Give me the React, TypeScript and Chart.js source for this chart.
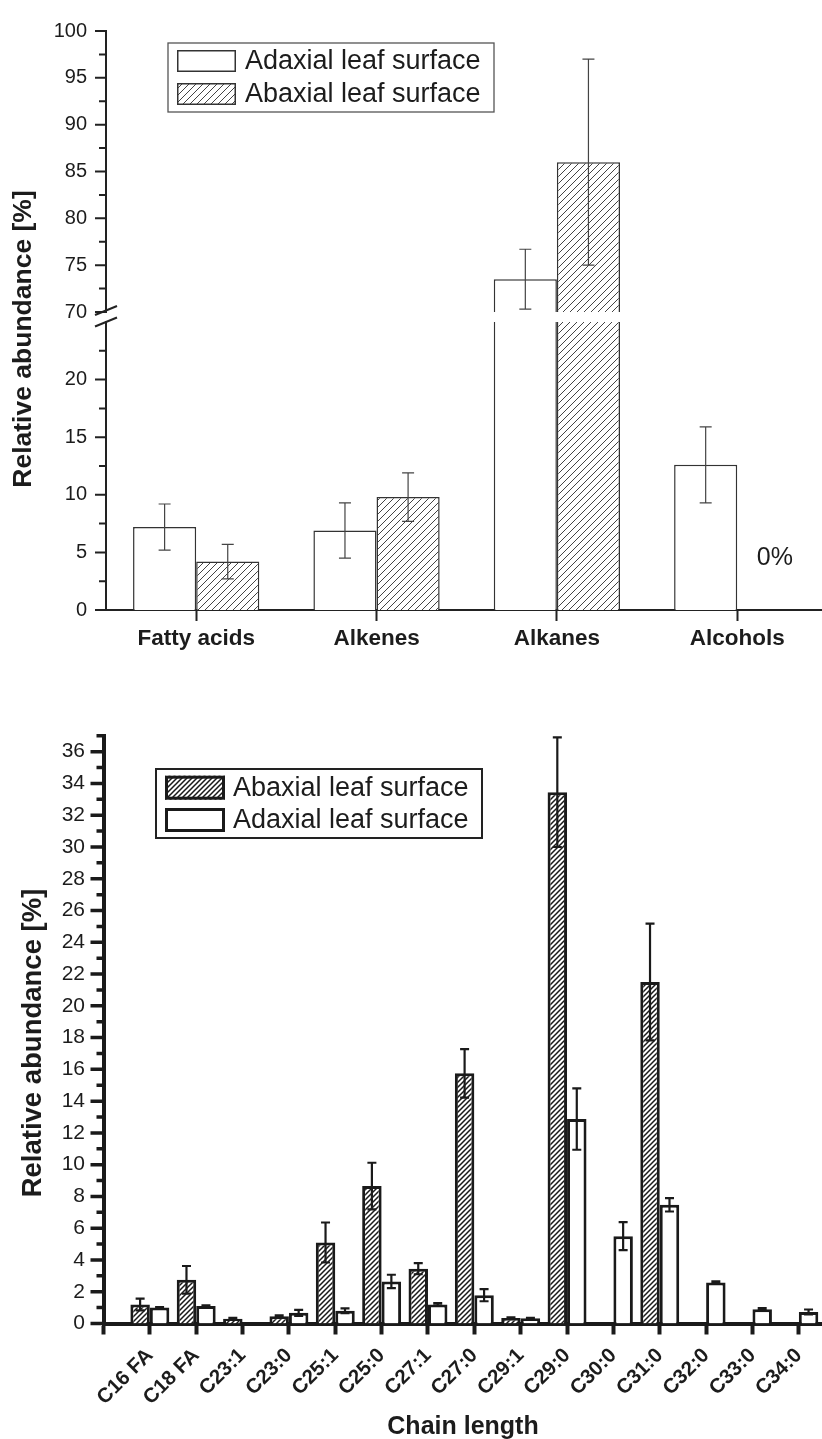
import React, { useEffect, useRef } from 'react';
import { Chart, registerables } from 'chart.js';

Chart.register(...registerables);

const FONT = '"Liberation Sans", Arial, Helvetica, sans-serif';
const INK = '#1c1c1c';

// Compound classes (upper figure), relative abundance in %
const classLabels = ['Fatty acids', 'Alkenes', 'Alkanes', 'Alcohols'];
const adaxialClass = [7.2, 6.9, 73.5, 12.6];
const adaxialClassErr = [2.0, 2.4, 3.2, 3.3];
const abaxialClass = [4.2, 9.8, 86.0, 0];
const abaxialClassErr = [1.5, 2.1, 11.0, 0];
// the value axis is broken into a lower and an upper segment
const lowerSegment = [0, 25];
const upperSegment = [70, 100];

// Chain length distribution (lower figure), relative abundance in %
const chainLabels = [
  'C16 FA', 'C18 FA', 'C23:1', 'C23:0', 'C25:1', 'C25:0', 'C27:1', 'C27:0',
  'C29:1', 'C29:0', 'C30:0', 'C31:0', 'C32:0', 'C33:0', 'C34:0',
];
const abaxialChain = [1.2, 2.75, 0.3, 0.45, 5.1, 8.65, 3.45, 15.75, 0.35, 33.45, 0, 21.5, 0, 0, 0];
const abaxialChainErr = [0.37, 0.87, 0.05, 0.06, 1.26, 1.47, 0.35, 1.53, 0.03, 3.45, 0, 3.67, 0, 0, 0];
const adaxialChain = [1.0, 1.1, 0, 0.67, 0.8, 2.65, 1.2, 1.78, 0.33, 12.87, 5.5, 7.47, 2.58, 0.9, 0.73];
const adaxialChainErr = [0.03, 0.04, 0, 0.19, 0.15, 0.42, 0.08, 0.38, 0.02, 1.93, 0.88, 0.42, 0.07, 0.07, 0.15];
const chainAxis = [0, 37];

const font = (size: number, weight = 'normal') => ({ family: FONT, size, weight });

function makeHatch(size: number, width: number, color: string): CanvasPattern {
  const tile = document.createElement('canvas');
  tile.width = size;
  tile.height = size;
  const g = tile.getContext('2d')!;
  g.fillStyle = '#ffffff';
  g.fillRect(0, 0, size, size);
  g.strokeStyle = color;
  g.lineWidth = width;
  g.beginPath();
  for (const k of [0, size, 2 * size]) {
    g.moveTo(k + 1, -1);
    g.lineTo(-1, k + 1);
  }
  g.stroke();
  return g.createPattern(tile, 'repeat')!;
}

// error bars centred on each bar, clipped to the plot area
function makeErrorBars(color: string, width: number, cap: number) {
  return {
    id: 'errorBars',
    afterDatasetsDraw(chart: any) {
      const { ctx, chartArea } = chart;
      ctx.save();
      ctx.beginPath();
      ctx.rect(chartArea.left, chartArea.top - 2, chartArea.right - chartArea.left, chartArea.bottom - chartArea.top + 2);
      ctx.clip();
      ctx.strokeStyle = color;
      ctx.lineWidth = width;
      chart.data.datasets.forEach((ds: any, di: number) => {
        const errs: number[] | undefined = ds.errors;
        if (!errs) return;
        const meta = chart.getDatasetMeta(di);
        const yScale = chart.scales[meta.yAxisID];
        meta.data.forEach((bar: any, j: number) => {
          const v = ds.data[j] ? ds.data[j].y : null;
          const e = errs[j];
          if (v == null || !e) return;
          const x = bar.x;
          const y1 = yScale.getPixelForValue(v + e);
          const y2 = yScale.getPixelForValue(v - e);
          ctx.beginPath();
          ctx.moveTo(x, y1);
          ctx.lineTo(x, y2);
          ctx.moveTo(x - cap, y1);
          ctx.lineTo(x + cap, y1);
          ctx.moveTo(x - cap, y2);
          ctx.lineTo(x + cap, y2);
          ctx.stroke();
        });
      });
      ctx.restore();
    },
  };
}

// outward major / minor tick marks on the value axis
function makeYTicks(major: number, majorLen: number, minorLen: number, width: number, color: string, skipMax = false) {
  return {
    id: 'yTicks',
    afterDraw(chart: any) {
      const scale = chart.scales.y;
      const { ctx } = chart;
      const x0 = chart.chartArea.left;
      ctx.save();
      ctx.strokeStyle = color;
      ctx.lineWidth = width;
      ctx.beginPath();
      scale.ticks.forEach((t: any) => {
        if (skipMax && t.value >= scale.max) return;
        const y = scale.getPixelForValue(t.value);
        const q = t.value / major;
        const len = Math.abs(q - Math.round(q)) < 1e-6 ? majorLen : minorLen;
        ctx.moveTo(x0 - len, y);
        ctx.lineTo(x0, y);
      });
      ctx.stroke();
      ctx.restore();
    },
  };
}

// slanted break mark where the value axis is interrupted
function makeAxisBreak(edge: 'top' | 'bottom', shift: number) {
  return {
    id: 'axisBreak',
    afterDraw(chart: any) {
      const { ctx, chartArea } = chart;
      const y = (edge === 'top' ? chartArea.top : chartArea.bottom) + shift;
      const x = chartArea.left;
      ctx.save();
      ctx.strokeStyle = '#222';
      ctx.lineWidth = 2;
      ctx.beginPath();
      ctx.moveTo(x - 11, y + 4.5);
      ctx.lineTo(x + 11, y - 4.5);
      ctx.stroke();
      ctx.restore();
    },
  };
}

interface LegendSpec {
  x: number; y: number; w: number; h: number;
  borderColor: string; borderWidth: number;
  swatchX: number; swatchW: number; swatchH: number; swatchBorder: number;
  rows: number[]; textX: number; fontSize: number;
}

function makeBoxLegend(spec: LegendSpec) {
  return {
    id: 'boxLegend',
    afterDraw(chart: any) {
      const { ctx } = chart;
      const s = spec;
      ctx.save();
      ctx.fillStyle = '#ffffff';
      ctx.fillRect(s.x, s.y, s.w, s.h);
      ctx.strokeStyle = s.borderColor;
      ctx.lineWidth = s.borderWidth;
      ctx.strokeRect(s.x, s.y, s.w, s.h);
      chart.data.datasets.forEach((ds: any, i: number) => {
        const cy = s.y + s.rows[i];
        const sx = s.x + s.swatchX;
        const sy = cy - s.swatchH / 2;
        const b = s.swatchBorder;
        ctx.fillStyle = ds.backgroundColor;
        ctx.fillRect(sx, sy, s.swatchW, s.swatchH);
        ctx.strokeStyle = ds.borderColor;
        ctx.lineWidth = b;
        ctx.strokeRect(sx + b / 2, sy + b / 2, s.swatchW - b, s.swatchH - b);
        ctx.fillStyle = INK;
        ctx.font = `normal ${s.fontSize}px ${FONT}`;
        ctx.textAlign = 'left';
        ctx.textBaseline = 'middle';
        ctx.fillText(ds.label, s.x + s.textX, cy + 1);
      });
      ctx.restore();
    },
  };
}

interface TextItem { text: string; x: number; y: number; size: number; weight: string; rotation?: number }

function makeTexts(items: TextItem[]) {
  return {
    id: 'freeText',
    afterDraw(chart: any) {
      const { ctx } = chart;
      items.forEach((it) => {
        ctx.save();
        ctx.translate(it.x, it.y);
        if (it.rotation) ctx.rotate(it.rotation);
        ctx.font = `${it.weight} ${it.size}px ${FONT}`;
        ctx.fillStyle = INK;
        ctx.textAlign = 'center';
        ctx.textBaseline = 'middle';
        ctx.fillText(it.text, 0, 0);
        ctx.restore();
      });
    },
  };
}

// percentage note next to a bar, taken from that bar's value
function makeValueNote(datasetIndex: number, index: number, dx: number, dy: number, size: number) {
  return {
    id: 'valueNote',
    afterDraw(chart: any) {
      const meta = chart.getDatasetMeta(datasetIndex);
      const point = chart.data.datasets[datasetIndex].data[index];
      const bar = meta.data[index];
      if (!bar || !point) return;
      const yScale = chart.scales[meta.yAxisID];
      const { ctx } = chart;
      ctx.save();
      ctx.font = `normal ${size}px ${FONT}`;
      ctx.fillStyle = INK;
      ctx.textAlign = 'center';
      ctx.textBaseline = 'middle';
      ctx.fillText(`${point.y}%`, bar.x + dx, yScale.getPixelForValue(point.y) + dy);
      ctx.restore();
    },
  };
}

const xy = (values: (number | null)[], offset = 0) => values.map((y, i) => ({ x: i + offset, y }));
const inSegment = (values: number[], seg: number[]) => values.map((v) => (v >= seg[0] ? v : null));

function classDatasets(hatch: CanvasPattern, upper: boolean) {
  const ad = upper ? inSegment(adaxialClass, upperSegment) : adaxialClass;
  const ab = upper ? inSegment(abaxialClass, upperSegment) : abaxialClass;
  const common = { borderColor: '#333333', borderWidth: 1.5, clip: 0, inflateAmount: 0, borderSkipped: 'start' };
  return [
    { label: 'Adaxial leaf surface', data: xy(ad), errors: adaxialClassErr, backgroundColor: '#ffffff', ...common },
    { label: 'Abaxial leaf surface', data: xy(ab), errors: abaxialClassErr, backgroundColor: hatch, ...common },
  ];
}

function classYScale(seg: number[], hideMaxLabel: boolean) {
  return {
    type: 'linear',
    min: seg[0],
    max: seg[1],
    z: 1,
    ticks: {
      stepSize: 2.5,
      autoSkip: false,
      padding: 19,
      color: INK,
      font: font(20),
      callback: (v: any) => {
        const n = Number(v);
        if (hideMaxLabel && n >= seg[1]) return '';
        return n % 5 === 0 ? String(n) : '';
      },
    },
    grid: { display: false, drawTicks: false },
    border: { display: true, width: 2, color: '#222222' },
    afterFit: (s: any) => { s.width = 106; },
  };
}

// shared category axis for both segments of the class chart
function classXScale(display: boolean) {
  return {
    type: 'linear',
    display,
    min: -0.5,
    max: 3.47,
    offset: false,
    z: 1,
    ticks: {
      stepSize: 1,
      includeBounds: false,
      autoSkip: false,
      minRotation: 0,
      maxRotation: 0,
      padding: 4,
      color: INK,
      font: font(22.5, 'bold'),
      callback: (v: any) => classLabels[Number(v)] ?? '',
    },
    grid: { offset: false, drawOnChartArea: false, drawTicks: true, tickLength: 11, tickWidth: 2, tickColor: '#222222', color: '#222222' },
    border: { display: true, width: 2, color: '#222222' },
    afterFit: (s: any) => { s.height = display ? 60 : 0; s.paddingLeft = 0; s.paddingRight = 0; },
  };
}

function upperConfig(hatch: CanvasPattern): any {
  return {
    type: 'bar',
    data: { datasets: classDatasets(hatch, true) },
    options: {
      responsive: false,
      animation: false,
      events: [],
      layout: { padding: { top: 24, bottom: 308, left: 0, right: 0 } },
      datasets: { bar: { categoryPercentage: 0.7, barPercentage: 1 } },
      plugins: { legend: { display: false }, tooltip: { enabled: false } },
      scales: {
        x: classXScale(false),
        y: classYScale(upperSegment, false),
      },
    },
    plugins: [
      makeErrorBars('#444444', 1.2, 6),
      makeYTicks(5, 11, 7, 2, '#222222'),
      makeAxisBreak('bottom', -1.5),
      makeBoxLegend({
        x: 168, y: 43, w: 326, h: 69, borderColor: '#555555', borderWidth: 1.3,
        swatchX: 9, swatchW: 59, swatchH: 22, swatchBorder: 1.5,
        rows: [18, 51], textX: 77, fontSize: 27,
      }),
      makeTexts([
        { text: 'Relative abundance [%]', x: 24, y: 339, size: 26.5, weight: 'bold', rotation: -Math.PI / 2 },
      ]),
    ],
  };
}

function lowerConfig(hatch: CanvasPattern): any {
  return {
    type: 'bar',
    data: { datasets: classDatasets(hatch, false) },
    options: {
      responsive: false,
      animation: false,
      events: [],
      layout: { padding: { top: 32, bottom: 0, left: 0, right: 0 } },
      datasets: { bar: { categoryPercentage: 0.7, barPercentage: 1 } },
      plugins: { legend: { display: false }, tooltip: { enabled: false } },
      scales: {
        x: classXScale(true),
        y: classYScale(lowerSegment, true),
      },
    },
    plugins: [
      makeErrorBars('#444444', 1.2, 6),
      makeYTicks(5, 11, 7, 2, '#222222', true),
      makeAxisBreak('top', 0),
      makeValueNote(1, 3, 6, -52, 25),
    ],
  };
}

function chainConfig(hatch: CanvasPattern): any {
  const common = { borderColor: '#1a1a1a', borderWidth: 3, inflateAmount: 0, borderSkipped: 'start' };
  return {
    type: 'bar',
    data: {
      datasets: [
        { label: 'Abaxial leaf surface', data: xy(abaxialChain, 1), errors: abaxialChainErr, backgroundColor: hatch, ...common },
        { label: 'Adaxial leaf surface', data: xy(adaxialChain, 1), errors: adaxialChainErr, backgroundColor: '#ffffff', ...common },
      ],
    },
    options: {
      responsive: false,
      animation: false,
      events: [],
      layout: { padding: { top: 35.8, bottom: 0, left: 0, right: 0 } },
      datasets: { bar: { categoryPercentage: 0.84, barPercentage: 1 } },
      plugins: { legend: { display: false }, tooltip: { enabled: false } },
      scales: {
        x: {
          type: 'linear',
          min: 0,
          max: 15.5,
          offset: false,
          z: 1,
          ticks: {
            stepSize: 1,
            includeBounds: false,
            autoSkip: false,
            minRotation: 45,
            maxRotation: 45,
            padding: 9,
            color: INK,
            font: font(20.5, 'bold'),
            callback: (v: any) => chainLabels[Number(v) - 1] ?? '',
          },
          grid: { offset: false, drawOnChartArea: false, drawTicks: true, tickLength: 11, tickWidth: 4, tickColor: '#1a1a1a', color: '#1a1a1a' },
          border: { display: true, width: 4, color: '#1a1a1a' },
          afterFit: (s: any) => { s.height = 115.5; s.paddingLeft = 0; s.paddingRight = 0; },
        },
        y: {
          type: 'linear',
          min: chainAxis[0],
          max: chainAxis[1],
          z: 1,
          ticks: {
            stepSize: 1,
            autoSkip: false,
            padding: 18.5,
            color: INK,
            font: font(21),
            callback: (v: any) => {
              const n = Number(v);
              return n % 2 === 0 && n < chainAxis[1] ? String(n) : '';
            },
          },
          grid: { display: false, drawTicks: false },
          border: { display: true, width: 4, color: '#1a1a1a' },
          afterFit: (s: any) => { s.width = 103.5; },
        },
      },
    },
    plugins: [
      makeErrorBars('#1a1a1a', 2.2, 4.5),
      makeYTicks(2, 13, 7, 3.5, '#1a1a1a'),
      makeBoxLegend({
        x: 156, y: 69, w: 326, h: 69, borderColor: '#222222', borderWidth: 2,
        swatchX: 9, swatchW: 60, swatchH: 24, swatchBorder: 3,
        rows: [18.7, 51], textX: 77, fontSize: 27,
      }),
      makeTexts([
        { text: 'Relative abundance [%]', x: 33, y: 343, size: 27.5, weight: 'bold', rotation: -Math.PI / 2 },
        { text: 'Chain length', x: 463, y: 727, size: 25, weight: 'bold' },
      ]),
    ],
  };
}

export default function App() {
  const upperRef = useRef<HTMLCanvasElement>(null);
  const lowerRef = useRef<HTMLCanvasElement>(null);
  const chainRef = useRef<HTMLCanvasElement>(null);

  useEffect(() => {
    const hatchClass = makeHatch(7, 1, '#444444');
    const hatchChain = makeHatch(5, 1.5, '#1a1a1a');
    const charts = [
      new Chart(upperRef.current!, upperConfig(hatchClass)),
      new Chart(lowerRef.current!, lowerConfig(hatchClass)),
      new Chart(chainRef.current!, chainConfig(hatchChain)),
    ];
    return () => charts.forEach((c) => c.destroy());
  }, []);

  const abs = (top: number, height: number): React.CSSProperties => ({
    position: 'absolute', left: 0, top, width: 822, height,
  });

  return (
    <div style={{ position: 'absolute', left: 0, top: 0, width: 822, height: 1439, overflow: 'hidden', background: '#ffffff' }}>
      <canvas ref={upperRef} width={822} height={620} style={abs(0, 620)} />
      <canvas ref={lowerRef} width={822} height={380} style={abs(290, 380)} />
      <canvas ref={chainRef} width={822} height={739} style={abs(700, 739)} />
    </div>
  );
}
